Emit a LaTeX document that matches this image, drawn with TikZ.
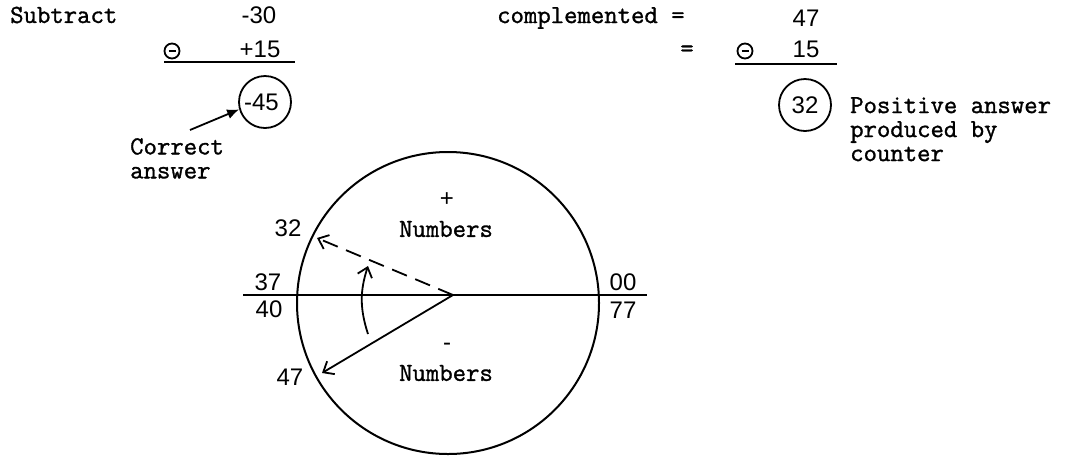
\documentclass[tikz,border=0pt]{standalone}
\usepackage{fontspec}
\setmonofont{Latin Modern Mono}[FakeBold=1.2]
\newfontfamily\numfont{Liberation Sans}
\usetikzlibrary{positioning,arrows.meta}

\begin{document}
\begin{tikzpicture}[
      x=1pt,y=-1pt,
      txt/.style={font=\ttfamily\fontsize{26}{24}\selectfont,inner sep=0pt,align=left},
      num/.style={font=\numfont\fontsize{24}{24}\selectfont,inner sep=0pt},
      ringed/.style={num,draw,circle,line width=1.8pt,minimum size=52pt},
      cminus/.style={draw,circle,line width=1.8pt,minimum size=15pt,inner sep=0pt},
      rule/.style={line width=2pt},
      ptr/.style={-{Straight Barb[length=9pt,width=15pt]},line width=1.8pt}
    ]
      \useasboundingbox (0,0) rectangle (1073,456);
      % left sum
      \node[txt,anchor=west] (sub) at (10,15) {Subtract};
      \node[num] (a1) at (259,15) {-30};
      \node[cminus] (m1) at (172,51) {\rule{7pt}{2.2pt}};
      \node[num] (a2) at (260,49) {+15};
      \draw[rule] (164,62) -- (295,62);
      \node[ringed] (r1) at (265,102) {\hspace*{-7pt}-45};
      \node[txt,anchor=north west] (ca) at (130,138) {Correct\\answer};
      \coordinate (cs) at (190,130);
      \draw[-{Latex[length=12pt,width=10pt]},line width=1.8pt] (cs) -- (r1.196);
      % right sum
      \node[txt,anchor=west] (comp) at (497,18) {complemented =};
      \node[num] (b1) at (806,18) {47};
      \node[txt] (eq) at (687,51) {=};
      \node[cminus] (m2) at (745,51) {\rule{7pt}{2.2pt}};
      \node[num] (b2) at (806,49) {15};
      \draw[rule] (735,64) -- (837,64);
      \node[ringed] (r2) at (805,105) {32};
      \node[txt,anchor=north west] (pos) at (850,97) {Positive answer\\produced by\\counter};
      % the counter wheel
      \draw[line width=2pt] (448,303) circle (151);
      \draw[line width=2.5pt] (243,295) -- (647,295);
      \coordinate (o) at (453,295);
      \coordinate (p32) at (317,238);
      \coordinate (p47) at (322,373);
      \draw[ptr,dash pattern=on 16pt off 9pt] (o) -- (p32);
      \draw[ptr] (o) -- (p47);
      \coordinate (cb) at (368,334);
      \coordinate (ct) at (368,266);
      \draw[ptr] (cb) to[bend left=18] (ct);
      \node[num] (n32) at (288,228) {32};
      \node[num] (n37) at (268,282) {37};
      \node[num] (n40) at (269,309) {40};
      \node[num] (n00) at (623,282) {00};
      \node[num] (n77) at (623,310) {77};
      \node[num] (n47) at (290,377) {47};
      \node[num] (plus) at (447,200) {+};
      \node[txt] (pn) at (446,229) {Numbers};
      \node[num] (minus) at (447,347) {-};
      \node[txt] (mn) at (446,373) {Numbers};
    \end{tikzpicture}
\end{document}
